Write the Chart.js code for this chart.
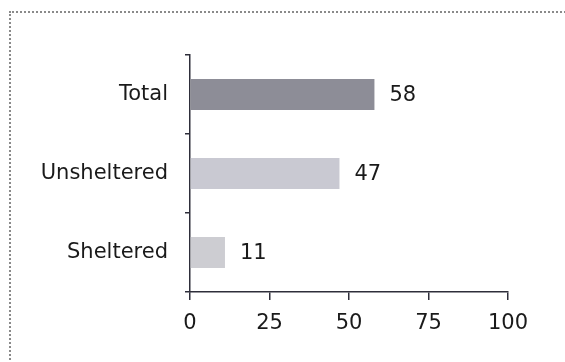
<!DOCTYPE html>
<html>
<head>
<meta charset="utf-8">
<script src="https://cdn.jsdelivr.net/npm/chart.js@4"></script>
<style>
    html, body {
        margin: 0;
        padding: 0;
        background: #fff;
        overflow: hidden;
    }
    #wrap {
        position: relative;
        width: 565px;
        height: 362px;
    }
    #frame {
        position: absolute;
        left: 9px;
        top: 11px;
        width: 600px;
        height: 400px;
        border-top: 2px dotted #8a8a8a;
        border-left: 2px dotted #8a8a8a;
        box-sizing: border-box;
    }
    canvas {
        position: absolute;
        left: 0;
        top: 0;
    }
</style>
</head>
<body>
<div id="wrap">
    <div id="frame"></div>
    <canvas id="shelterChart" width="565" height="362"></canvas>
</div>
<script>
const categories = ["Total", "Unsheltered", "Sheltered"]
const counts = [58, 47, 11]
const barColors = ["#8d8d97", "#c9c9d2", "#cdcdd2"]
const xTicks = [0, 25, 50, 75, 100]

const axisColor = "#2e2e3a"
const textColor = "#1a1a1a"
const fontFamily = "'DejaVu Sans', sans-serif"
const fontSize = 21

// numbers to the right of each bar
const valueLabels = {
    id: "valueLabels",
    afterDatasetsDraw(chart) {
        const ctx = chart.ctx
        const meta = chart.getDatasetMeta(0)
        ctx.save()
        ctx.fillStyle = textColor
        ctx.font = fontSize + "px " + fontFamily
        ctx.textAlign = "left"
        ctx.textBaseline = "middle"
        meta.data.forEach((bar, i) => {
            ctx.fillText(String(counts[i]), bar.x + 15, bar.y + 1)
        })
        ctx.restore()
    }
}

const data = {
    labels: categories,
    datasets: [{
        data: counts,
        backgroundColor: barColors,
        borderWidth: 0,
        barPercentage: 0.39,
        categoryPercentage: 1
    }]
}

const config = {
    type: "bar",
    data: data,
    options: {
        indexAxis: "y",
        responsive: false,
        animation: false,
        layout: {
            padding: { left: 0, top: 55, right: 57, bottom: 0 }
        },
        scales: {
            x: {
                min: 0,
                max: 100,
                afterBuildTicks: (scale) => {
                    scale.ticks = xTicks.map(v => ({ value: v }))
                },
                afterFit: (scale) => { scale.height = 70 },
                grid: {
                    drawOnChartArea: false,
                    tickLength: 8,
                    color: axisColor,
                    lineWidth: 1.5
                },
                border: { color: axisColor, width: 1.5 },
                ticks: {
                    color: textColor,
                    padding: 11,
                    font: { family: fontFamily, size: fontSize }
                }
            },
            y: {
                afterFit: (scale) => { scale.width = 190 },
                grid: {
                    drawOnChartArea: false,
                    tickLength: 5,
                    color: axisColor,
                    lineWidth: 1.5
                },
                border: { color: axisColor, width: 1.5 },
                ticks: {
                    color: textColor,
                    padding: 17,
                    font: { family: fontFamily, size: fontSize }
                }
            }
        },
        plugins: {
            legend: { display: false },
            tooltip: { enabled: false }
        }
    },
    plugins: [valueLabels]
}

const shelterChart = new Chart(
    document.getElementById("shelterChart"), config
)
</script>
</body>
</html>
